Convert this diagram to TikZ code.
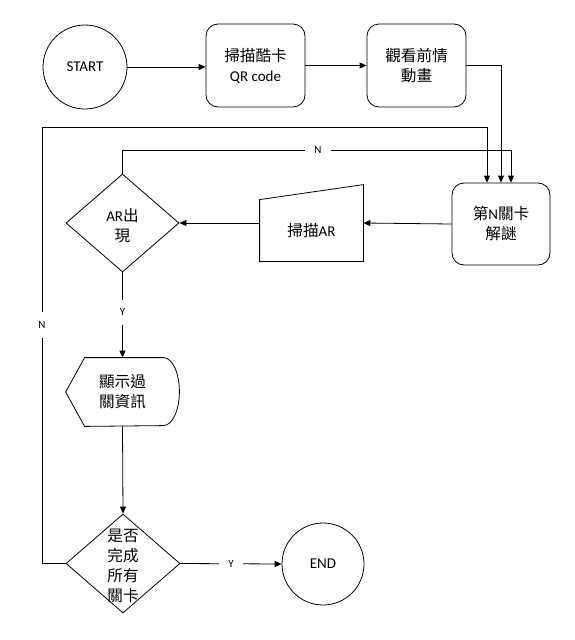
\documentclass[tikz,border=0pt]{standalone}
\usepackage{fontspec}
\setmainfont{Carlito}
\newfontfamily\cjk{Noto Sans CJK TC}[Scale=1.04]
\usetikzlibrary{arrows.meta,shapes.geometric,calc}
\begin{document}
\begin{tikzpicture}[x=1pt,y=-1pt,
  font=\fontsize{15}{20}\selectfont,
  line width=0.8pt,
  >={Triangle[length=7pt,width=6pt]},
  term/.style={circle,draw,minimum size=84pt,inner sep=0pt},
  proc/.style={rectangle,rounded corners=12pt,draw,minimum width=99pt,minimum height=83pt,align=center,inner sep=0pt},
  dec/.style={diamond,draw,inner sep=0pt},
  lab/.style={fill=white,font=\fontsize{11}{13}\selectfont,inner sep=9pt},
  ghost/.style={inner sep=0pt,draw=none}]
\useasboundingbox (0,0) rectangle (575,640);
\fill[white] (0,0) rectangle (575,640);

\node[term] (start) at (85,67) {START};
\node[proc] (qr) at (255.5,65.5) {{\cjk 掃描酷卡}\\QR code};
\node[proc] (anim) at (416.5,65.5) {{\cjk 觀看前情}\\{\cjk 動畫}};
\node[proc,minimum width=98pt,minimum height=82pt] (lvl) at (501,224) {{\cjk 第}N{\cjk 關卡}\\{\cjk 解謎}};
\node[ghost,minimum width=103pt,minimum height=76pt,label={[yshift=-8pt]center:{{\cjk 掃描}AR}}] (scan) at (311.5,223) {};
\draw (scan.south west) -- (scan.south east) -- (scan.north east) -- ($(scan.north west)+(0,15)$) -- cycle;
\node[dec,minimum width=113pt,minimum height=98pt,label={[align=center,yshift=-3pt]center:{AR{\cjk 出}\\{\cjk 現}}}] (ar) at (122.5,223) {};
\node[ghost,minimum width=113pt,minimum height=68pt,align=center] (disp) at (122.5,392) {{\cjk 顯示過}\\{\cjk 關資訊}};
\draw (disp.west) -- ($(disp.north west)+(19,0)$) -- ($(disp.north east)+(-16,0)$)
  arc[start angle=-90,end angle=90,x radius=16,y radius=34] -- ($(disp.south west)+(19,0)$) -- cycle;
\node[dec,minimum width=114pt,minimum height=99pt,label={[align=center,yshift=-2.5pt]center:{{\cjk 是否}\\{\cjk 完成}\\{\cjk 所有}\\{\cjk 關卡}}}] (done) at (123,563.5) {};
\node[term,minimum size=82pt] (end) at (323,564) {END};

\coordinate (nloop) at (511,150);
\coordinate (tl) at (42,127);
\coordinate (tr) at (487,127);

\draw[->] (start.east) -- (start.east -| qr.west);
\draw[->] (qr.east) -- (anim.west);
\draw[->] (anim.east) -| (lvl.north);
\draw[->] (lvl.west) -- (scan.east);
\draw[->] (scan.west) -- (ar.east);
\draw[->] (ar.north) |- (nloop) -- (nloop |- lvl.north);
\node[lab] (nlab1) at (318,150) {N};
\draw[->] (ar.south) -- (disp.north) node[lab,pos=0.47] (ylab1) {Y};
\draw[->] (disp.south) -- (done.north);
\draw[->] (done.east) -- (end.west) node[lab,pos=0.5] (ylab2) {Y};
\draw[->] (done.west) -| (tl) -- (tr) -- (tr |- lvl.north);
\node[lab] (nlab2) at (42,325) {N};
\end{tikzpicture}
\end{document}
